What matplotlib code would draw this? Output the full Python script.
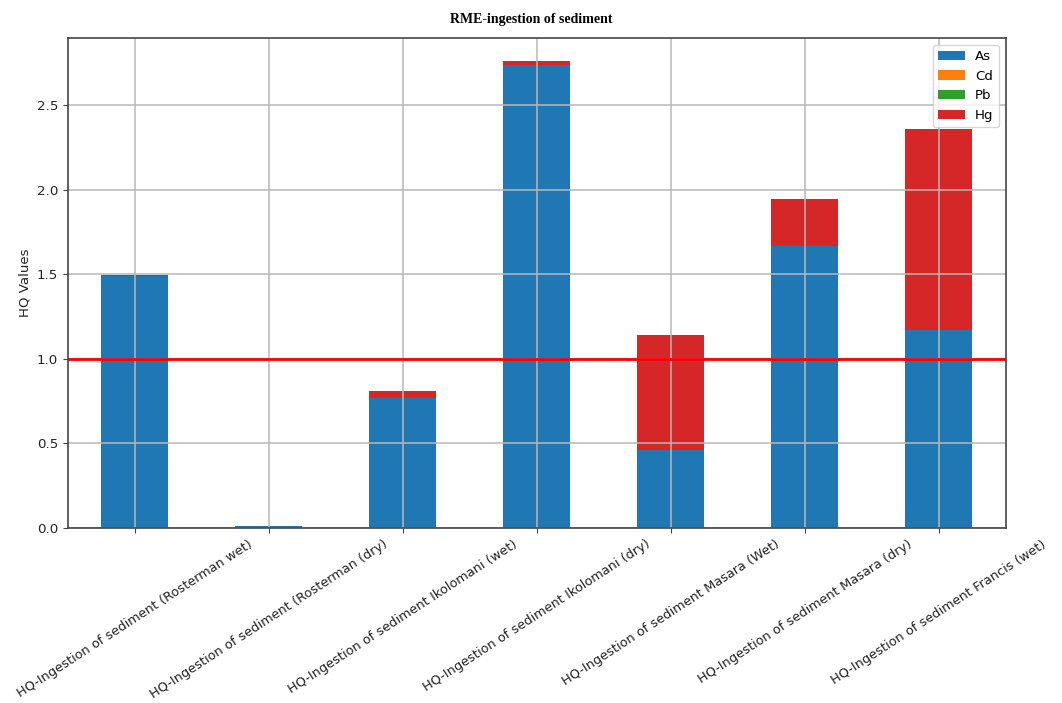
import numpy as np
import matplotlib.pyplot as plt

sites = ['HQ-Ingestion of sediment (Rosterman wet)',
         'HQ-Ingestion of sediment (Rosterman (dry)',
         'HQ-Ingestion of sediment Ikolomani (wet)',
         'HQ-Ingestion of sediment Ikolomani (dry)',
         'HQ-Ingestion of sediment Masara (Wet)',
         'HQ-Ingestion of sediment Masara (dry)',
         'HQ-Ingestion of sediment Francis (wet)']
As = [1.489, 0.013, 0.768, 2.736, 0.461, 1.667, 1.170]
Cd = [0.001, 0.0, 0.001, 0.001, 0.001, 0.001, 0.001]
Pb = [0.001, 0.0, 0.001, 0.001, 0.001, 0.001, 0.001]
Hg = [0.003, 0.0, 0.040, 0.020, 0.677, 0.275, 1.187]

metals = {'As': As, 'Cd': Cd, 'Pb': Pb, 'Hg': Hg}
colors = ['#1f77b4', '#ff7f0e', '#2ca02c', '#d62728']

fig = plt.figure(figsize=(10.62, 7.03), dpi=100)
ax = fig.add_axes([0.064, 0.249, 0.883, 0.697])

x = np.arange(len(sites))
bottom = np.zeros(len(sites))
for (name, vals), c in zip(metals.items(), colors):
    ax.bar(x, vals, 0.5, bottom=bottom, color=c, label=name)
    bottom += np.array(vals)

ax.set_xlim(-0.5, len(sites) - 0.5)
ax.set_ylim(0, bottom.max() * 1.05)
ax.axhline(1.0, color='red', linewidth=2)
ax.grid(True, color='#b8b8b8', linewidth=1.1)
for s in ax.spines.values():
    s.set_color('#444444')
    s.set_linewidth(1.2)

ax.set_xticks(x)
ax.set_xticklabels(sites, rotation=33, ha='center', fontsize=9.3, color='#222222')
ax.tick_params(axis='y', labelsize=9.6, labelcolor='#222222')
ax.tick_params(color='#444444')
ax.set_ylabel('HQ Values', fontsize=9.6, color='#222222')
ax.legend(loc='upper right', fontsize=9.6)

fig.suptitle('RME-ingestion of sediment', y=0.982, fontsize=10,
             fontweight='bold', family='Liberation Serif')

fig.savefig('out.png', dpi=100)
